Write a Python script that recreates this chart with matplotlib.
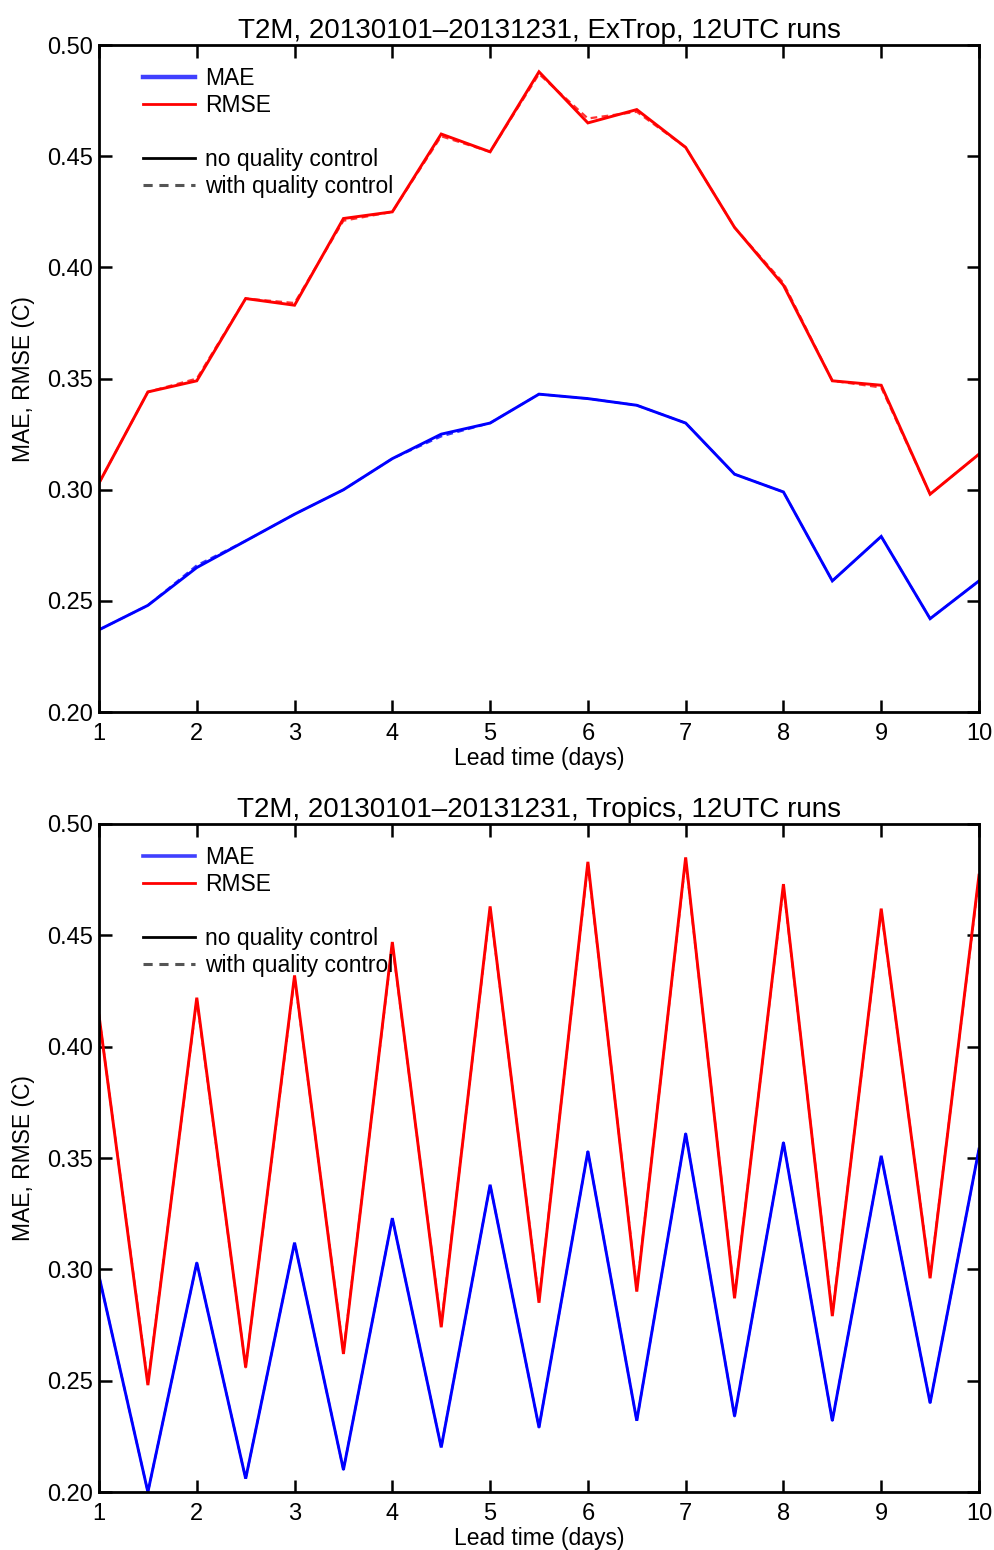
import matplotlib
matplotlib.use("Agg")
import matplotlib.pyplot as plt
from matplotlib.lines import Line2D
from matplotlib.ticker import FormatStrFormatter

plt.rcParams['font.family'] = ['Liberation Sans', 'DejaVu Sans']

lead_days = [1.0, 1.5, 2.0, 2.5, 3.0, 3.5, 4.0, 4.5, 5.0, 5.5,
             6.0, 6.5, 7.0, 7.5, 8.0, 8.5, 9.0, 9.5, 10.0]

# Extra-tropics
extrop_rmse = [0.303, 0.344, 0.349, 0.386, 0.383, 0.422, 0.425, 0.460, 0.452, 0.488,
               0.465, 0.471, 0.454, 0.418, 0.392, 0.349, 0.347, 0.298, 0.316]
extrop_rmse_qc = [0.303, 0.344, 0.350, 0.386, 0.384, 0.421, 0.425, 0.459, 0.452, 0.487,
                  0.467, 0.470, 0.454, 0.418, 0.393, 0.349, 0.346, 0.298, 0.316]
extrop_mae = [0.237, 0.248, 0.265, 0.277, 0.289, 0.300, 0.314, 0.325, 0.330, 0.343,
              0.341, 0.338, 0.330, 0.307, 0.299, 0.259, 0.279, 0.242, 0.259]
extrop_mae_qc = [0.237, 0.248, 0.266, 0.277, 0.289, 0.300, 0.314, 0.324, 0.330, 0.343,
                 0.341, 0.338, 0.330, 0.307, 0.299, 0.259, 0.279, 0.242, 0.259]

# Tropics
trop_rmse = [0.414, 0.248, 0.422, 0.256, 0.432, 0.262, 0.447, 0.274, 0.463, 0.285,
             0.483, 0.290, 0.485, 0.287, 0.473, 0.279, 0.462, 0.296, 0.477]
trop_rmse_qc = [0.414, 0.249, 0.421, 0.256, 0.431, 0.263, 0.446, 0.275, 0.462, 0.286,
                0.482, 0.291, 0.484, 0.288, 0.472, 0.280, 0.461, 0.297, 0.476]
trop_mae = [0.297, 0.200, 0.303, 0.206, 0.312, 0.210, 0.323, 0.220, 0.338, 0.229,
            0.353, 0.232, 0.361, 0.234, 0.357, 0.232, 0.351, 0.240, 0.354]
trop_mae_qc = [0.297, 0.200, 0.303, 0.206, 0.312, 0.210, 0.323, 0.220, 0.338, 0.229,
               0.353, 0.232, 0.361, 0.234, 0.357, 0.232, 0.351, 0.240, 0.354]

titles = ["T2M, 20130101\u201320131231, ExTrop, 12UTC runs",
          "T2M, 20130101\u201320131231, Tropics, 12UTC runs"]
x_ticks = list(range(1, 11))
y_ticks = [0.20, 0.25, 0.30, 0.35, 0.40, 0.45, 0.50]

BLUE = "#0000ff"
RED = "#ff0000"
FS = 16.5
FS_TICK = 17
FS_TITLE = 20

fig = plt.figure(figsize=(9.94, 15.5), dpi=100)
ax_top = fig.add_axes([0.0996, 0.5406, 0.8853, 0.4303])
ax_bot = fig.add_axes([0.0996, 0.0374, 0.8853, 0.4310])

panels = [
    (ax_top, extrop_mae, extrop_mae_qc, extrop_rmse, extrop_rmse_qc, titles[0], 3.2),
    (ax_bot, trop_mae, trop_mae_qc, trop_rmse, trop_rmse_qc, titles[1], 2.6),
]

for ax, mae, mae_qc, rmse, rmse_qc, title, mae_lw in panels:
    ax.plot(lead_days, mae, color=BLUE, lw=2.1, solid_joinstyle='miter')
    ax.plot(lead_days, mae_qc, color=BLUE, lw=1.6, ls=(0, (3, 2)), alpha=0.8)
    ax.plot(lead_days, rmse, color=RED, lw=2.1, solid_joinstyle='miter')
    ax.plot(lead_days, rmse_qc, color=RED, lw=1.6, ls=(0, (3, 2)), alpha=0.8)

    ax.set_xlim(1, 10)
    ax.set_ylim(0.20, 0.50)
    ax.set_xticks(x_ticks)
    ax.set_yticks(y_ticks)
    ax.yaxis.set_major_formatter(FormatStrFormatter('%.2f'))
    ax.tick_params(direction='in', length=9, width=1.8, top=True, right=True,
                   labelsize=FS_TICK, colors='black')
    ax.tick_params(axis='x', pad=8)
    ax.tick_params(axis='y', pad=4)
    for sp in ax.spines.values():
        sp.set_linewidth(2.0)
    ax.set_title(title, fontsize=FS_TITLE, pad=5)
    ax.set_xlabel("Lead time (days)", fontsize=FS, labelpad=1)
    ax.set_ylabel("MAE, RMSE (C)", fontsize=FS, labelpad=9)

    handles = [
        Line2D([], [], color=BLUE, lw=mae_lw, alpha=0.75),
        Line2D([], [], color=RED, lw=2.0),
        Line2D([], [], color='none'),
        Line2D([], [], color='black', lw=2.0),
        Line2D([], [], color='#555555', lw=2.2, ls=(0, (3, 2.2))),
    ]
    labels = ["MAE", "RMSE", " ", "no quality control", "with quality control"]
    ax.legend(handles, labels, loc='upper left', frameon=False, fontsize=FS,
              handlelength=2.27, handletextpad=0.44, labelspacing=0.18,
              borderaxespad=0.0, bbox_to_anchor=(0.0395, 0.981))

fig.savefig("out.png", dpi=100)
